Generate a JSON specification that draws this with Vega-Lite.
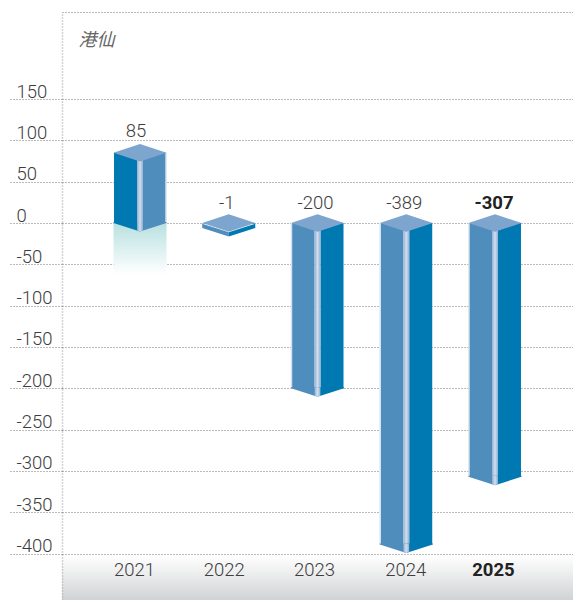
{
"$schema":"https://vega.github.io/schema/vega-lite/v6.json",
"width":511,"height":588,
"autosize":{"type":"none"},
"padding":{"left":62,"top":12,"right":0,"bottom":0},
"background":"white",
"config":{"view":{"stroke":null,"fill":{"gradient":"linear","x1":0,"y1":0,"x2":0,"y2":1,"stops":[{"offset":0,"color":"#ffffff"},{"offset":0.925,"color":"#ffffff"},{"offset":1,"color":"#d0d2d4"}]}}},
"data":{"values":[{"year":"2021","value":85},{"year":"2022","value":-1},{"year":"2023","value":-200},{"year":"2024","value":-389},{"year":"2025","value":-307}]},
"encoding":{
"x":{"field":"year","type":"ordinal","title":null,"scale":{"type":"point","domain":["2021","2022","2023","2024","2025"],"range":[0,511],"padding":0.879},
"axis":{"domain":false,"ticks":false,"grid":false,"labelAngle":0,"labelPadding":-40,"labelFont":"Roboto","labelFontWeight":{"expr":"datum.value=='2025'?'bold':300"},"labelFontSize":18.5,"labelColor":{"expr":"datum.value=='2025'?'#222222':'#3c3c3c'"},"labelOffset":{"expr":"{'2021':-6,'2022':-5,'2023':-3.5,'2024':-1,'2025':-2}[datum.value]"}}},
"y":{"field":"value","type":"quantitative","scale":{"domain":[-456.1,255.3],"nice":false,"zero":false},
"axis":{"title":"港仙","titleAngle":0,"titleX":16,"titleY":33,"titleAlign":"left","titleBaseline":"alphabetic","titleFont":"Noto Sans CJK TC","titleFontStyle":"italic","titleFontWeight":"normal","titleFontSize":18,"titleColor":"#666666",
"values":[255.3,150,100,50,0,-50,-100,-150,-200,-250,-300,-350,-400],"labelExpr":"datum.value>200?'':datum.value","labelAlign":"left","labelBaseline":"alphabetic","labelPadding":-7,"labelOffset":-2,"labelFont":"Roboto","labelFontWeight":300,"labelFontSize":18.5,"labelColor":"#3c3c3c","labelOverlap":false,"labelBound":false,"labelFlush":false,
"tickSize":53,"tickDash":[1,2],"tickColor":"#777777","tickOpacity":{"expr":"datum.value>200?0:1"},
"grid":true,"gridDash":[1,2],"gridColor":"#777777","gridOpacity":1,
"domain":true,"domainDash":[1,2],"domainColor":"#aaaaaa","domainWidth":1.5}}
},
"layer":[
{"transform":[{"filter":"datum.value>0"}],"mark":{"type":"bar","width":53,"color":{"gradient":"linear","x1":0,"y1":0,"x2":0,"y2":1,"stops":[{"offset":0,"color":"#b8e0e0"},{"offset":1,"color":"#ffffff"}]}},"encoding":{"y":{"datum":0},"y2":{"datum":-62}}},
{"mark":{"type":"bar","width":23,"xOffset":-14.5},"encoding":{"y2":{"datum":0},"color":{"condition":{"test":"datum.value>0","value":"#0079b2"},"value":"#4f8dbd"}}},
{"mark":{"type":"bar","width":23,"xOffset":14.5},"encoding":{"y2":{"datum":0},"color":{"condition":{"test":"datum.value>0","value":"#4f8dbd"},"value":"#0079b2"}}},
{"mark":{"type":"bar","width":6,"xOffset":0,"color":{"gradient":"linear","x1":0,"y1":0,"x2":1,"y2":0,"stops":[{"offset":0,"color":"#8fb0d4"},{"offset":0.5,"color":"#d3deec"},{"offset":1,"color":"#8fb0d4"}]}},"encoding":{"y2":{"datum":0}}},
{"transform":[{"filter":"datum.value<0"}],"mark":{"type":"bar","width":1.5,"xOffset":-26,"color":"#d5e1ee"},"encoding":{"y2":{"datum":0}}},
{"transform":[{"filter":"datum.value>0"}],"mark":{"type":"bar","width":1.5,"xOffset":26,"color":"#d5e1ee"},"encoding":{"y2":{"datum":0}}},
{"mark":{"type":"point","filled":true,"opacity":1,"size":2809,"shape":"M-1,-0.04L0,-0.04L0,0.32L-1,0Z"},"encoding":{"y":{"datum":0},"color":{"value":"#0079b2"}},"transform":[{"filter":"datum.value>0"}]},
{"mark":{"type":"point","filled":true,"opacity":1,"size":2809,"shape":"M1,-0.04L0,-0.04L0,0.32L1,0Z"},"encoding":{"y":{"datum":0},"color":{"value":"#4f8dbd"}},"transform":[{"filter":"datum.value>0"}]},
{"mark":{"type":"point","filled":true,"opacity":1,"size":2809,"shape":"M-1,-0.04L0,-0.04L0,0.32L-1,0Z"},"encoding":{"color":{"value":"#4f8dbd"}},"transform":[{"filter":"datum.value<-1"}]},
{"mark":{"type":"point","filled":true,"opacity":1,"size":2809,"shape":"M1,-0.04L0,-0.04L0,0.32L1,0Z"},"encoding":{"color":{"value":"#0079b2"}},"transform":[{"filter":"datum.value<-1"}]},
{"mark":{"type":"point","filled":true,"opacity":1,"size":2809,"shape":"M-1,0L0,0.32L0,0.48L-1,0.16Z"},"encoding":{"color":{"value":"#4f8dbd"}},"transform":[{"filter":"datum.value==-1"}]},
{"mark":{"type":"point","filled":true,"opacity":1,"size":2809,"shape":"M1,0L0,0.32L0,0.48L1,0.16Z"},"encoding":{"color":{"value":"#0079b2"}},"transform":[{"filter":"datum.value==-1"}]},
{"mark":{"type":"point","filled":true,"opacity":1,"size":2809,"shape":"M-0.11,0.28L0,0.32L0.11,0.28L0.11,-0.04L-0.11,-0.04Z","color":{"gradient":"linear","x1":0,"y1":0,"x2":1,"y2":0,"stops":[{"offset":0,"color":"#8fb0d4"},{"offset":0.5,"color":"#d3deec"},{"offset":1,"color":"#8fb0d4"}]}},"encoding":{"y":{"datum":0}},"transform":[{"filter":"datum.value>0"}]},
{"mark":{"type":"point","filled":true,"opacity":1,"size":2809,"shape":"M-0.11,0.28L0,0.32L0.11,0.28L0.11,-0.04L-0.11,-0.04Z","color":{"gradient":"linear","x1":0,"y1":0,"x2":1,"y2":0,"stops":[{"offset":0,"color":"#8fb0d4"},{"offset":0.5,"color":"#d3deec"},{"offset":1,"color":"#8fb0d4"}]}},"transform":[{"filter":"datum.value<-1"}]},
{"mark":{"type":"point","filled":true,"opacity":1,"size":2809,"shape":"M-1,0L0,-0.33L1,0L0,0.33Z"},"encoding":{"y":{"datum":0},"color":{"value":"#7ea5ce"}},"transform":[{"filter":"datum.value<0"}]},
{"mark":{"type":"point","filled":true,"opacity":1,"size":2809,"shape":"M-1,0L0,-0.33L1,0L0,0.33Z"},"encoding":{"color":{"value":"#7ea5ce"}},"transform":[{"filter":"datum.value>0"}]},
{"transform":[{"filter":"datum.value>0"}],"mark":{"type":"text","font":"Roboto","fontWeight":300,"fontSize":18.5,"color":"#3c3c3c","dy":-16,"dx":-4,"baseline":"alphabetic"},"encoding":{"text":{"field":"value","type":"nominal"}}},
{"transform":[{"filter":"datum.value<0&&datum.year!='2025'"}],"mark":{"type":"text","font":"Roboto","fontWeight":300,"fontSize":18.5,"color":"#3c3c3c","dy":-14,"dx":-2,"baseline":"alphabetic"},"encoding":{"y":{"datum":0},"text":{"field":"value","type":"nominal"}}},
{"transform":[{"filter":"datum.year=='2025'"}],"mark":{"type":"text","font":"Roboto","fontWeight":"bold","fontSize":18.5,"color":"#222222","dy":-14,"dx":-1,"baseline":"alphabetic"},"encoding":{"y":{"datum":0},"text":{"field":"value","type":"nominal"}}}
]
}
